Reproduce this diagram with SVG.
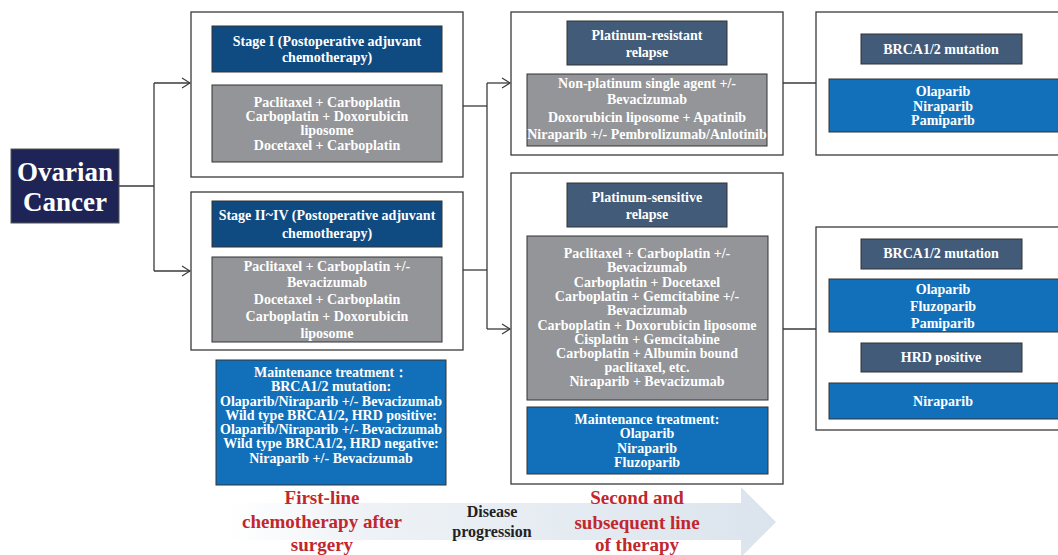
<svg xmlns="http://www.w3.org/2000/svg" width="1058" height="555" viewBox="0 0 1058 555">
<style>
text{font-family:"Liberation Serif","Times New Roman",serif;font-weight:bold;text-anchor:middle}
.w{fill:#ffffff;font-size:14px}
.outer{fill:#ffffff;stroke:#3a3a3a;stroke-width:1.3}
.hd{fill:#0f4a80;stroke:#333;stroke-width:1}
.sl{fill:#425b79;stroke:#333;stroke-width:1}
.gr{fill:#939598;stroke:#333;stroke-width:1}
.bl{fill:#1170b9;stroke:#333;stroke-width:1}
.red{fill:#c1272d;font-size:19px}
.conn{fill:none;stroke:#3a3a3a;stroke-width:1.3}
</style>
<defs>
<marker id="ah" markerWidth="10" markerHeight="12" refX="9" refY="6" orient="auto" markerUnits="userSpaceOnUse">
<path d="M1,1 L9,6 L1,11" fill="none" stroke="#3a3a3a" stroke-width="1.2"/>
</marker>
<linearGradient id="g" x1="0" y1="0" x2="1" y2="0">
<stop offset="0" stop-color="#ffffff"/>
<stop offset="0.25" stop-color="#eef2f6"/>
<stop offset="1" stop-color="#dbe4ed"/>
</linearGradient>
</defs>

<g id="progress-arrow">
<path d="M230,503 L741,503 L741,487 L776,522 L741,557 L741,540 L230,540 Z" fill="url(#g)"/>
</g>

<g id="connectors">
<path class="conn" d="M119,186 H154"/>
<path class="conn" d="M154,83 V271"/>
<path class="conn" d="M154,83 H190" marker-end="url(#ah)"/>
<path class="conn" d="M154,271 H190" marker-end="url(#ah)"/>
<path class="conn" d="M463,106 H487"/>
<path class="conn" d="M463,270 H487"/>
<path class="conn" d="M487,83 V329"/>
<path class="conn" d="M487,83 H510" marker-end="url(#ah)"/>
<path class="conn" d="M487,329 H510" marker-end="url(#ah)"/>
<path class="conn" d="M783,83 H816"/>
<path class="conn" d="M783,329 H816"/>
</g>

<g id="ovarian">
<rect x="11" y="149" width="108" height="74" fill="#1f2457" stroke="#555" stroke-width="1"/>
<text x="65" y="181" fill="#fff" font-size="27">Ovarian</text>
<text x="65" y="211" fill="#fff" font-size="27">Cancer</text>
</g>

<g id="stage1">
<rect class="outer" x="191" y="12" width="272" height="165"/>
<rect class="hd" x="212" y="26" width="230" height="46"/>
<text class="w" x="327" y="46">Stage I (Postoperative adjuvant</text>
<text class="w" x="327" y="62">chemotherapy)</text>
<rect class="gr" x="212" y="85" width="230" height="77"/>
<text class="w" x="327" y="107">Paclitaxel + Carboplatin</text>
<text class="w" x="327" y="121">Carboplatin + Doxorubicin</text>
<text class="w" x="327" y="135">liposome</text>
<text class="w" x="327" y="150">Docetaxel + Carboplatin</text>
</g>

<g id="stage2">
<rect class="outer" x="191" y="192" width="272" height="158"/>
<rect class="hd" x="212" y="201" width="230" height="46"/>
<text class="w" x="327" y="220">Stage II~IV (Postoperative adjuvant</text>
<text class="w" x="327" y="238">chemotherapy)</text>
<rect class="gr" x="212" y="257" width="230" height="85"/>
<text class="w" x="327" y="271">Paclitaxel + Carboplatin +/-</text>
<text class="w" x="327" y="287">Bevacizumab</text>
<text class="w" x="327" y="304">Docetaxel + Carboplatin</text>
<text class="w" x="327" y="321">Carboplatin + Doxorubicin</text>
<text class="w" x="327" y="338">liposome</text>
</g>

<g id="maintenance1">
<rect class="bl" x="216" y="360" width="230" height="125"/>
<text class="w" x="331" y="377">Maintenance treatment：</text>
<text class="w" x="331" y="391">BRCA1/2 mutation:</text>
<text class="w" x="331" y="406">Olaparib/Niraparib +/- Bevacizumab</text>
<text class="w" x="331" y="420">Wild type BRCA1/2, HRD positive:</text>
<text class="w" x="331" y="434">Olaparib/Niraparib +/- Bevacizumab</text>
<text class="w" x="331" y="448">Wild type BRCA1/2, HRD negative:</text>
<text class="w" x="331" y="463">Niraparib +/- Bevacizumab</text>
</g>

<g id="resistant">
<rect class="outer" x="511" y="12" width="272" height="143"/>
<rect class="sl" x="567" y="21" width="160" height="44"/>
<text class="w" x="647" y="40">Platinum-resistant</text>
<text class="w" x="647" y="57">relapse</text>
<rect class="gr" x="527" y="74" width="240" height="72"/>
<text class="w" x="647" y="88">Non-platinum single agent +/-</text>
<text class="w" x="647" y="104">Bevacizumab</text>
<text class="w" x="647" y="122">Doxorubicin liposome + Apatinib</text>
<text class="w" x="647" y="139">Niraparib +/- Pembrolizumab/Anlotinib</text>
</g>

<g id="sensitive">
<rect class="outer" x="511" y="173" width="272" height="311"/>
<rect class="sl" x="567" y="183" width="160" height="44"/>
<text class="w" x="647" y="202">Platinum-sensitive</text>
<text class="w" x="647" y="219">relapse</text>
<rect class="gr" x="527" y="236" width="241" height="164"/>
<text class="w" x="647" y="258">Paclitaxel + Carboplatin +/-</text>
<text class="w" x="647" y="272">Bevacizumab</text>
<text class="w" x="647" y="287">Carboplatin + Docetaxel</text>
<text class="w" x="647" y="301">Carboplatin + Gemcitabine +/-</text>
<text class="w" x="647" y="315">Bevacizumab</text>
<text class="w" x="647" y="330">Carboplatin + Doxorubicin liposome</text>
<text class="w" x="647" y="344">Cisplatin + Gemcitabine</text>
<text class="w" x="647" y="358">Carboplatin + Albumin bound</text>
<text class="w" x="647" y="372">paclitaxel, etc.</text>
<text class="w" x="647" y="386">Niraparib + Bevacizumab</text>
<rect class="bl" x="527" y="407" width="241" height="67"/>
<text class="w" x="647" y="424">Maintenance treatment:</text>
<text class="w" x="647" y="438">Olaparib</text>
<text class="w" x="647" y="453">Niraparib</text>
<text class="w" x="647" y="467">Fluzoparib</text>
</g>

<g id="right-top">
<rect class="outer" x="816" y="12" width="250" height="143"/>
<rect class="sl" x="861" y="34" width="161" height="30"/>
<text class="w" x="941" y="54">BRCA1/2 mutation</text>
<rect class="bl" x="829" y="79" width="236" height="53"/>
<text class="w" x="943" y="96">Olaparib</text>
<text class="w" x="943" y="111">Niraparib</text>
<text class="w" x="943" y="125">Pamiparib</text>
</g>

<g id="right-bottom">
<rect class="outer" x="816" y="227" width="250" height="203"/>
<rect class="sl" x="861" y="239" width="161" height="30"/>
<text class="w" x="941" y="258">BRCA1/2 mutation</text>
<rect class="bl" x="829" y="279" width="236" height="53"/>
<text class="w" x="943" y="294">Olaparib</text>
<text class="w" x="943" y="311">Fluzoparib</text>
<text class="w" x="943" y="328">Pamiparib</text>
<rect class="sl" x="861" y="343" width="161" height="29"/>
<text class="w" x="941" y="362">HRD positive</text>
<rect class="bl" x="829" y="383" width="236" height="36"/>
<text class="w" x="943" y="406">Niraparib</text>
</g>

<g id="labels">
<text class="red" x="322" y="504">First-line</text>
<text class="red" x="322" y="528">chemotherapy after</text>
<text class="red" x="322" y="551">surgery</text>
<text x="492" y="517" fill="#222" font-size="16">Disease</text>
<text x="492" y="537" fill="#222" font-size="16">progression</text>
<text class="red" x="637" y="504">Second and</text>
<text class="red" x="637" y="529">subsequent line</text>
<text class="red" x="637" y="551">of therapy</text>
</g>
</svg>
